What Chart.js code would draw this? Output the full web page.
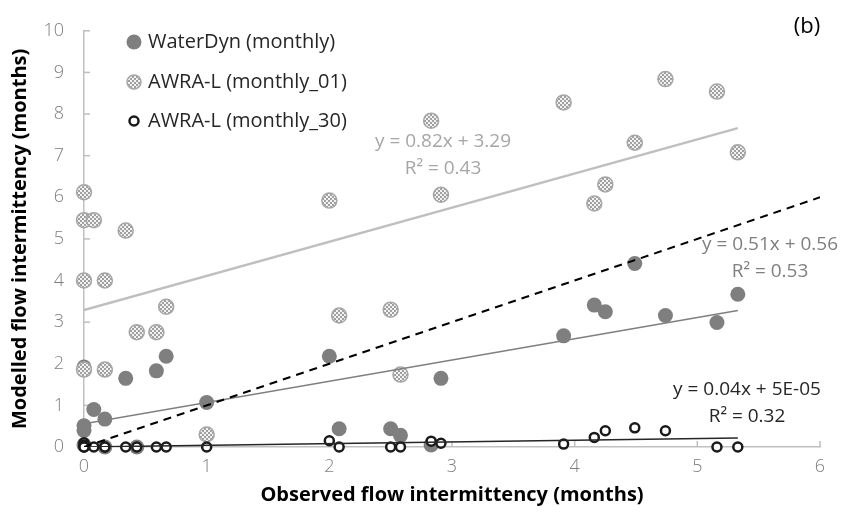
<!DOCTYPE html>
<html>
<head>
<meta charset="utf-8">
<script src="https://cdn.jsdelivr.net/npm/chart.js@4.4.1/dist/chart.umd.min.js"></script>
<style>
  html, body { margin: 0; padding: 0; background: #fff; }
  #wrap { width: 847px; height: 517px; position: relative; }
</style>
</head>
<body>
<div id="wrap"><canvas id="flowChart"></canvas></div>
<script>
// observed flow intermittency per site (months)
const observed = [0, 0, 0, 0, 0.08, 0.17, 0.17, 0.34, 0.43, 0.59, 0.67, 1.0, 2.0, 2.08, 2.5, 2.58, 2.83, 2.91, 3.91, 4.16, 4.25, 4.49, 4.74, 5.16, 5.33];
// modelled values
const waterDyn = [1.92, 0.51, 0.4, 0.05, 0.9, 0.67, 0, 1.65, 0, 1.83, 2.18, 1.07, 2.18, 0.44, 0.44, 0.28, 0.05, 1.65, 2.67, 3.41, 3.25, 4.41, 3.16, 2.99, 3.67];
const awra01 = [6.12, 5.45, 4.0, 1.86, 5.45, 4.0, 1.86, 5.2, 2.76, 2.76, 3.37, 0.3, 5.92, 3.16, 3.3, 1.74, 7.84, 6.06, 8.28, 5.85, 6.31, 7.31, 8.84, 8.54, 7.08];
const awra30 = [0.1, 0.05, 0, 0, 0, 0, 0, 0, 0, 0, 0, 0, 0.15, 0, 0, 0, 0.14, 0.09, 0.07, 0.23, 0.39, 0.46, 0.39, 0, 0];

const seriesNames = ["WaterDyn (monthly)", "AWRA-L (monthly_01)", "AWRA-L (monthly_30)"];
// linear trendlines (WaterDyn, monthly_01, monthly_30)
const trendSlope = [0.51, 0.82, 0.04];
const trendIntercept = [0.56, 3.29, 0.00005];
const trendEnd = 5.33;
const eqText = [
  ["y = 0.51x + 0.56", "R² = 0.53"],
  ["y = 0.82x + 3.29", "R² = 0.43"],
  ["y = 0.04x + 5E-05", "R² = 0.32"],
];
const xTicks = [0, 1, 2, 3, 4, 5, 6];
const yTicks = [0, 1, 2, 3, 4, 5, 6, 7, 8, 9, 10];

function pts(xs, ys) {
  return xs.map((x, i) => ({ x: x, y: ys[i] }));
}
function trend(i) {
  return [
    { x: 0, y: trendIntercept[i] },
    { x: trendEnd, y: trendSlope[i] * trendEnd + trendIntercept[i] },
  ];
}

// hatched fill for AWRA-L monthly_01
function makeHatch() {
  const c = document.createElement("canvas");
  c.width = 4;
  c.height = 4;
  const g = c.getContext("2d");
  g.fillStyle = "#f2f2f2";
  g.fillRect(0, 0, 4, 4);
  g.fillStyle = "#a0a0a0";
  g.fillRect(0, 0, 2, 2);
  g.fillRect(2, 2, 2, 2);
  return g.createPattern(c, "repeat");
}
const hatch = makeHatch();

const FONT = "'Open Sans', 'Noto Sans', sans-serif";

// inner tick marks, legend, equations and the (b) label
const extrasPlugin = {
  id: "extras",
  beforeDatasetsDraw(chart) {
    const ctx = chart.ctx;
    const xs = chart.scales.x;
    const ys = chart.scales.y;
    ctx.save();
    ctx.strokeStyle = "#bfbfbf";
    ctx.lineWidth = 1.5;
    xTicks.forEach((v) => {
      const px = xs.getPixelForValue(v);
      ctx.beginPath();
      ctx.moveTo(px, ys.bottom);
      ctx.lineTo(px, ys.bottom - 6);
      ctx.stroke();
    });
    yTicks.forEach((v) => {
      const py = ys.getPixelForValue(v);
      ctx.beginPath();
      ctx.moveTo(xs.left, py);
      ctx.lineTo(xs.left + 6, py);
      ctx.stroke();
    });
    ctx.restore();
  },
  afterDraw(chart) {
    const ctx = chart.ctx;
    ctx.save();
    // legend
    const lx = 134;
    const rows = [42, 82, 121];
    ctx.textBaseline = "middle";
    ctx.textAlign = "left";
    ctx.font = "20px " + FONT;
    rows.forEach((ry, i) => {
      ctx.beginPath();
      if (i === 0) {
        ctx.arc(lx, ry, 7.5, 0, Math.PI * 2);
        ctx.fillStyle = "#7f7f7f";
        ctx.fill();
      } else if (i === 1) {
        ctx.arc(lx, ry, 7, 0, Math.PI * 2);
        ctx.fillStyle = hatch;
        ctx.fill();
        ctx.strokeStyle = "#a6a6a6";
        ctx.lineWidth = 1.5;
        ctx.stroke();
      } else {
        ctx.arc(lx, ry, 4.5, 0, Math.PI * 2);
        ctx.fillStyle = "#fff";
        ctx.fill();
        ctx.strokeStyle = "#1a1a1a";
        ctx.lineWidth = 2.5;
        ctx.stroke();
      }
      ctx.fillStyle = "#262626";
      ctx.fillText(seriesNames[i], lx + 14, ry);
    });

    // trendline equations
    ctx.textAlign = "center";
    ctx.font = "19px " + FONT;
    const eqPos = [
      [770, 245, "#7f7f7f"],
      [443, 142, "#a6a6a6"],
      [747, 390, "#262626"],
    ];
    eqPos.forEach((p, i) => {
      ctx.fillStyle = p[2];
      ctx.fillText(eqText[i][0], p[0], p[1]);
      ctx.fillText(eqText[i][1], p[0], p[1] + 27);
    });

    ctx.fillStyle = "#000";
    ctx.font = "22px " + FONT;
    ctx.fillText("(b)", 807, 27);
    ctx.restore();
  },
};

const config = {
  type: "scatter",
  data: {
    datasets: [
      {
        label: "1:1",
        type: "line",
        data: [{ x: 0, y: 0 }, { x: 6, y: 6 }],
        borderColor: "#000",
        borderWidth: 2,
        borderDash: [8, 6],
        pointRadius: 0,
        fill: false,
        order: 1,
      },
      {
        label: "trend monthly_30",
        type: "line",
        data: trend(2),
        borderColor: "#262626",
        borderWidth: 1.5,
        pointRadius: 0,
        order: 2,
      },
      {
        label: "trend WaterDyn",
        type: "line",
        data: trend(0),
        borderColor: "#7f7f7f",
        borderWidth: 1.5,
        pointRadius: 0,
        order: 3,
      },
      {
        label: "trend monthly_01",
        type: "line",
        data: trend(1),
        borderColor: "#bfbfbf",
        borderWidth: 2.5,
        pointRadius: 0,
        order: 4,
      },
      {
        label: seriesNames[2],
        data: pts(observed, awra30),
        pointRadius: 4.5,
        pointBorderWidth: 2.5,
        pointBackgroundColor: "#ffffff",
        pointBorderColor: "#1a1a1a",
        clip: false,
        order: 5,
      },
      {
        label: seriesNames[1],
        data: pts(observed, awra01),
        pointRadius: 7.5,
        pointBorderWidth: 1.5,
        pointBackgroundColor: hatch,
        pointBorderColor: "#a6a6a6",
        clip: false,
        order: 6,
      },
      {
        label: seriesNames[0],
        data: pts(observed, waterDyn),
        pointRadius: 7.5,
        pointBorderWidth: 0,
        pointBackgroundColor: "#7f7f7f",
        pointBorderColor: "#7f7f7f",
        clip: false,
        order: 7,
      },
    ],
  },
  options: {
    responsive: true,
    maintainAspectRatio: false,
    animation: false,
    layout: {
      padding: { top: 16, right: 27, left: 0, bottom: 0 },
    },
    plugins: {
      legend: { display: false },
      tooltip: { enabled: false },
    },
    scales: {
      x: {
        type: "linear",
        min: 0,
        max: 6,
        afterFit: (s) => { s.height = 70; },
        afterBuildTicks: (s) => { s.ticks = xTicks.map((v) => ({ value: v })); },
        grid: { display: false, drawTicks: false, tickLength: 0 },
        border: { display: true, color: "#bfbfbf", width: 1.5 },
        ticks: {
          padding: 9,
          color: "#7f7f7f",
          font: { family: FONT, size: 18, weight: 300 },
        },
        title: {
          display: true,
          text: "Observed flow intermittency (months)",
          color: "#000",
          font: { family: FONT, size: 20, weight: "bold" },
          padding: { top: 0, bottom: 10 },
        },
      },
      y: {
        min: 0,
        max: 10,
        afterFit: (s) => { s.width = 84; },
        afterBuildTicks: (s) => { s.ticks = yTicks.map((v) => ({ value: v })); },
        grid: { display: false, drawTicks: false, tickLength: 0 },
        border: { display: true, color: "#bfbfbf", width: 1.5 },
        ticks: {
          padding: 20,
          color: "#7f7f7f",
          font: { family: FONT, size: 18, weight: 300 },
        },
        title: {
          display: true,
          text: "Modelled flow intermittency (months)",
          color: "#000",
          font: { family: FONT, size: 20, weight: "bold" },
          padding: { top: 8, bottom: 0 },
        },
      },
    },
  },
  plugins: [extrasPlugin],
};

new Chart(document.getElementById("flowChart"), config);
</script>
</body>
</html>
